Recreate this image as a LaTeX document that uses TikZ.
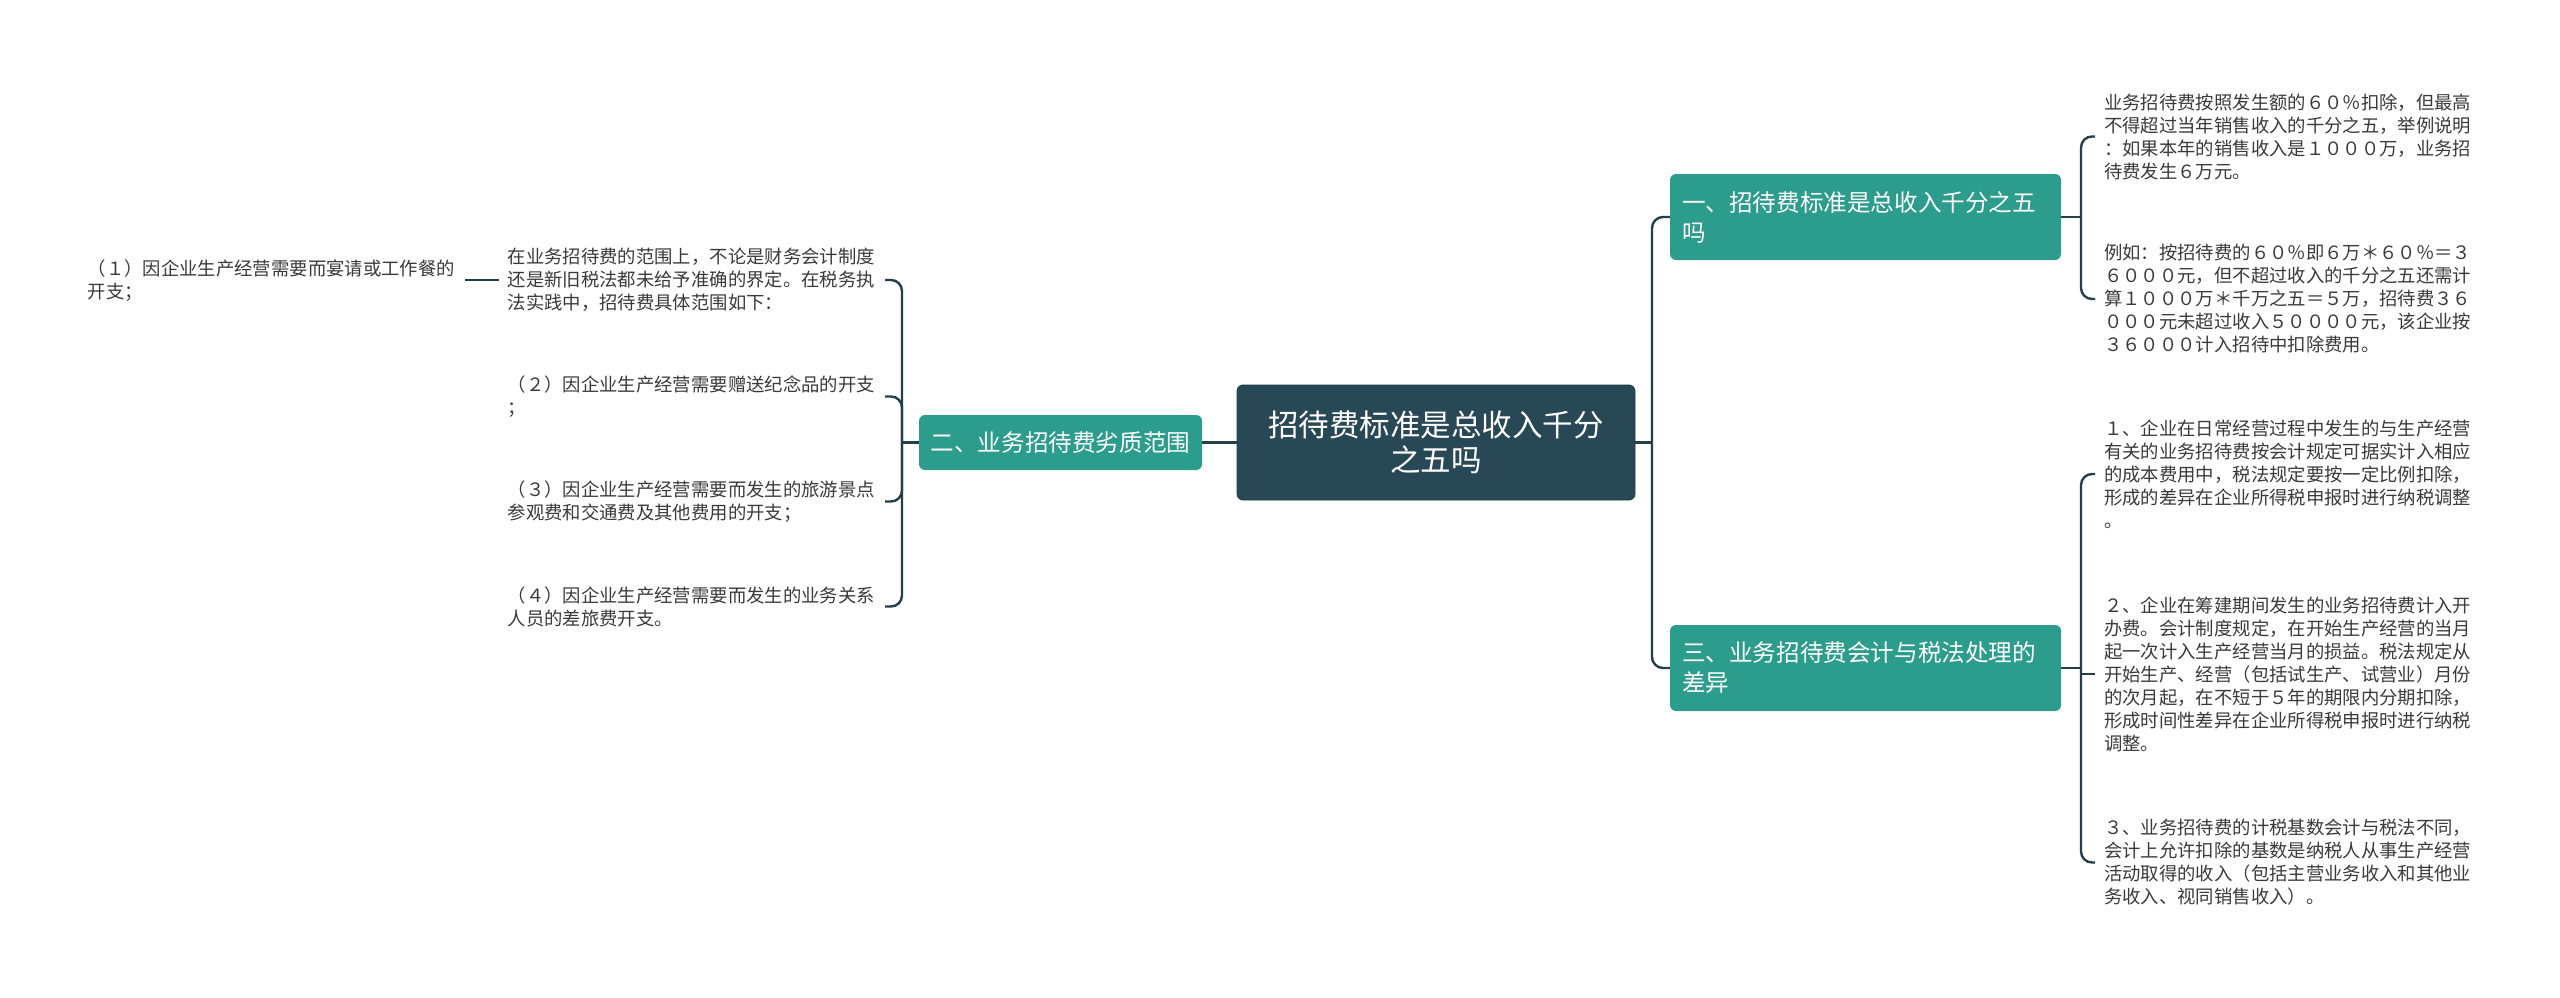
\documentclass[tikz,border=0pt]{standalone}
\usepackage{fontspec}
\newfontfamily\cjk{Noto Sans CJK SC}
\usetikzlibrary{calc}
\definecolor{rootc}{HTML}{284855}
\definecolor{tealc}{HTML}{2C9C8D}
\definecolor{linec}{HTML}{263E4A}
\definecolor{txtc}{HTML}{3A3A3A}
\begin{document}
\begin{tikzpicture}[x=1pt,y=-1pt,
  rootbox/.style={fill=rootc, draw=rootc!80!black, line width=0.8pt, rounded corners=6pt, text=white,
    font=\cjk\fontsize{30.5}{35}\selectfont, align=center, minimum width=398pt, minimum height=115pt, inner sep=0pt},
  mainbox/.style={fill=tealc, rounded corners=6pt, text=white, font=\cjk\fontsize{23.6}{30}\selectfont, inner sep=0pt},
  leaf/.style={text=txtc, font=\cjk\fontsize{18.35}{23}\selectfont, align=left, text width=368pt, inner xsep=9pt, inner ysep=2pt},
  conn/.style={draw=linec, line width=2.4pt, rounded corners=11pt}]
\fill[white] (0,0) rectangle (2560,998);
\path[use as bounding box] (0,0) rectangle (2560,998);

% main nodes
\node[rootbox] (root) at (1436,442.5) {招待费标准是总收入千分\\之五吗};
\node[mainbox, text width=367pt, inner xsep=12pt, minimum height=86pt, align=left] (n1) at (1865.5,217) {一、招待费标准是总收入千分之五\\吗};
\node[mainbox, text width=367pt, inner xsep=12pt, minimum height=86pt, align=left] (n3) at (1865.5,668) {三、业务招待费会计与税法处理的\\差异};
\node[mainbox, minimum width=283pt, minimum height=55pt] (n2) at (1060.5,442.5) {二、业务招待费劣质范围};

% right leaves
\node[leaf, anchor=west] (a1) at (2095,136.5) {业务招待费按照发生额的６０％扣除，但最高\\不得超过当年销售收入的千分之五，举例说明\\：如果本年的销售收入是１０００万，业务招\\待费发生６万元。};
\node[leaf, anchor=west] (a2) at (2095,299) {例如：按招待费的６０％即６万＊６０％＝３\\６０００元，但不超过收入的千分之五还需计\\算１０００万＊千万之五＝５万，招待费３６\\０００元未超过收入５００００元，该企业按\\３６０００计入招待中扣除费用。};
\node[leaf, anchor=west] (b1) at (2095,474) {１、企业在日常经营过程中发生的与生产经营\\有关的业务招待费按会计规定可据实计入相应\\的成本费用中，税法规定要按一定比例扣除，\\形成的差异在企业所得税申报时进行纳税调整\\。};
\node[leaf, anchor=west] (b2) at (2095,674) {２、企业在筹建期间发生的业务招待费计入开\\办费。会计制度规定，在开始生产经营的当月\\起一次计入生产经营当月的损益。税法规定从\\开始生产、经营（包括试生产、试营业）月份\\的次月起，在不短于５年的期限内分期扣除，\\形成时间性差异在企业所得税申报时进行纳税\\调整。};
\node[leaf, anchor=west] (b3) at (2095,862.5) {３、业务招待费的计税基数会计与税法不同，\\会计上允许扣除的基数是纳税人从事生产经营\\活动取得的收入（包括主营业务收入和其他业\\务收入、视同销售收入）。};

% left leaves
\node[leaf, anchor=east] (p0) at (885,280) {在业务招待费的范围上，不论是财务会计制度\\还是新旧税法都未给予准确的界定。在税务执\\法实践中，招待费具体范围如下：};
\node[leaf, anchor=east] (p2) at (885,396.5) {（２）因企业生产经营需要赠送纪念品的开支\\；};
\node[leaf, anchor=east] (p3) at (885,501.5) {（３）因企业生产经营需要而发生的旅游景点\\参观费和交通费及其他费用的开支；};
\node[leaf, anchor=east] (p4) at (885,606.5) {（４）因企业生产经营需要而发生的业务关系\\人员的差旅费开支。};
\node[leaf, anchor=east] (q1) at (465,281) {（１）因企业生产经营需要而宴请或工作餐的\\开支；};

% junctions
\coordinate (jr) at (1652,442.5);
\coordinate (j1) at (2081,217);
\coordinate (j3) at (2081,668);
\coordinate (jl) at (902,442.5);

% connectors
\draw[conn] (root.east) -- (jr);
\draw[conn] (jr) |- (n1.west);
\draw[conn] (jr) |- (n3.west);
\draw[conn] (root.west) -- (n2.east);

\draw[conn] (n1.east) -- (j1);
\draw[conn] (j1) |- (a1.west);
\draw[conn] (j1) |- (a2.west);

\draw[conn] (n3.east) -- (j3);
\draw[conn] (j3) |- (b1.west);
\draw[conn] (j3) |- (b3.west);
\draw[conn] (b2.west) -- (b2.west -| j3);

\draw[conn] (n2.west) -- (jl);
\draw[conn] (jl) |- (p0.east);
\draw[conn] (jl) |- (p2.east);
\draw[conn] (jl) |- (p3.east);
\draw[conn] (jl) |- (p4.east);

\draw[conn] (p0.west) -- (q1.east |- p0.west);
\end{tikzpicture}
\end{document}
